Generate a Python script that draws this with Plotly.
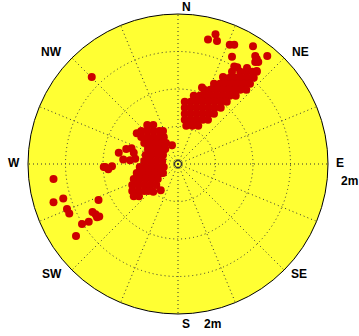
import numpy as np
import plotly.graph_objects as go

# Horizontal displacement samples (metres): east and north components
ne_cluster_east = [0.83, 0.91, 0.99, 1.05,
                   0.61, 0.69, 0.77, 0.85, 0.93, 1.01,
                   0.48, 0.56, 0.64, 0.72, 0.80, 0.88, 0.96,
                   0.35, 0.43, 0.51, 0.59, 0.67, 0.75, 0.83, 0.91,
                   0.21, 0.29, 0.37, 0.45, 0.53, 0.61, 0.69, 0.77,
                   0.09, 0.17, 0.25, 0.33, 0.41, 0.49, 0.57, 0.65,
                   0.09, 0.17, 0.25, 0.33, 0.41, 0.49, 0.57,
                   0.09, 0.17, 0.25, 0.33, 0.41, 0.48,
                   0.09, 0.17, 0.25, 0.33, 0.40,
                   0.11, 0.19, 0.27,
                   0.79, 0.92]
ne_cluster_north = [1.23, 1.23, 1.23, 1.23,
                    1.15, 1.15, 1.15, 1.15, 1.15, 1.15,
                    1.07, 1.07, 1.07, 1.07, 1.07, 1.07, 1.07,
                    0.99, 0.99, 0.99, 0.99, 0.99, 0.99, 0.99, 0.99,
                    0.91, 0.91, 0.91, 0.91, 0.91, 0.91, 0.91, 0.91,
                    0.83, 0.83, 0.83, 0.83, 0.83, 0.83, 0.83, 0.83,
                    0.75, 0.75, 0.75, 0.75, 0.75, 0.75, 0.75,
                    0.67, 0.67, 0.67, 0.67, 0.67, 0.67,
                    0.59, 0.59, 0.59, 0.59, 0.59,
                    0.51, 0.51, 0.51,
                    1.29, 1.28]

ne_scatter_east = [0.57, 0.73, 0.40, 0.50, 0.52, 0.69, 0.75, 1.00, 1.20, 1.23, 1.19,
                   0.72, 1.03, 1.19, 1.05, 1.03, 1.07, 0.75, 0.72, 1.05, 0.60, 0.32]
ne_scatter_north = [1.96, 1.91, 1.66, 1.73, 1.64, 1.59, 1.59, 1.57, 1.74, 1.69, 1.69,
                    1.43, 1.44, 1.44, 1.40, 1.36, 1.36, 1.30, 1.23, 1.24, 1.16, 1.02]

sw_cluster_east = [-0.41, -0.33,
                   -0.49, -0.41, -0.33, -0.25, -0.20,
                   -0.49, -0.41, -0.33, -0.25, -0.19,
                   -0.45, -0.37, -0.29, -0.21, -0.16,
                   -0.40, -0.32, -0.24, -0.17,
                   -0.43, -0.35, -0.27, -0.20,
                   -0.45, -0.37, -0.29, -0.21,
                   -0.51, -0.43, -0.35, -0.27, -0.19,
                   -0.55, -0.47, -0.39, -0.31, -0.23, -0.20,
                   -0.59, -0.51, -0.43, -0.35, -0.27,
                   -0.61, -0.53, -0.45, -0.37, -0.29,
                   -0.61, -0.53, -0.45, -0.40,
                   -0.59, -0.52,
                   -0.08, -0.33, -0.23, -0.55]
sw_cluster_north = [0.52, 0.52,
                    0.44, 0.44, 0.44, 0.44, 0.44,
                    0.36, 0.36, 0.36, 0.36, 0.36,
                    0.28, 0.28, 0.28, 0.28, 0.28,
                    0.20, 0.20, 0.20, 0.20,
                    0.12, 0.12, 0.12, 0.12,
                    0.04, 0.04, 0.04, 0.04,
                    -0.04, -0.04, -0.04, -0.04, -0.04,
                    -0.12, -0.12, -0.12, -0.12, -0.12, -0.12,
                    -0.20, -0.20, -0.20, -0.20, -0.20,
                    -0.28, -0.28, -0.28, -0.28, -0.28,
                    -0.36, -0.36, -0.36, -0.36,
                    -0.43, -0.43,
                    0.25, -0.37, -0.35, 0.41]

w_scatter_east = [-0.69, -0.79, -0.62, -0.73, -0.64, -0.57, -0.59,
                  -0.88, -0.97, -0.93, -0.99,
                  -1.66, -1.66, -1.53, -1.48, -1.45, -1.36, -1.28, -1.19,
                  -1.06, -1.14, -1.10, -1.08, -1.05, -1.15]
w_scatter_north = [0.20, 0.15, 0.21, 0.06, 0.05, 0.07, 0.15,
                   -0.03, -0.04, -0.07, -0.04,
                   -0.20, -0.51, -0.46, -0.60, -0.66, -0.96, -0.80, -0.77,
                   -0.48, -0.64, -0.67, -0.71, -0.70, 1.16]

compass_labels = ["N", "NE", "E", "SE", "S", "SW", "W", "NW"]
range_label = "2m"
r_max = 2.0
ring_values = [0.5, 1.0, 1.5, 2.0]

east = np.array(ne_cluster_east + ne_scatter_east + sw_cluster_east + w_scatter_east)
north = np.array(ne_cluster_north + ne_scatter_north + sw_cluster_north + w_scatter_north)
r = np.hypot(east, north)
theta = np.degrees(np.arctan2(east, north)) % 360

fig = go.Figure()
fig.add_trace(go.Scatterpolar(
    r=r, theta=theta, mode="markers",
    marker=dict(color="#CC0000", size=8, line=dict(width=0)),
    cliponaxis=False, showlegend=False, hoverinfo="skip"))
fig.add_trace(go.Scatterpolar(
    r=[0], theta=[0], mode="markers",
    marker=dict(symbol="circle-open", color="#333333", size=7, line=dict(width=1.3)),
    showlegend=False, hoverinfo="skip"))

grid_col = "#333333"
fig.update_layout(
    width=359, height=336,
    margin=dict(l=28, r=31, t=14, b=22),
    paper_bgcolor="white",
    polar=dict(
        domain=dict(x=[0, 1], y=[0, 1]),
        bgcolor="#FFFF33",
        radialaxis=dict(range=[0, r_max], tickvals=ring_values, showticklabels=False,
                        ticks="", showline=False, gridcolor=grid_col, gridwidth=1,
                        griddash="1px,3px"),
        angularaxis=dict(direction="clockwise", rotation=90, tickmode="linear",
                         tick0=0, dtick=22.5, showticklabels=False, ticks="",
                         gridcolor=grid_col, gridwidth=1, griddash="1px,3px",
                         showline=True, linecolor="black", linewidth=1),
    ),
)

# label positions (paper coordinates)
label_pos = {
    "N": (0.528, 1.022), "NE": (0.907, 0.873), "E": (1.04, 0.503),
    "SE": (0.903, 0.133), "S": (0.528, -0.033), "SW": (0.079, 0.133),
    "W": (-0.047, 0.503), "NW": (0.079, 0.873),
}
font = dict(family="Liberation Sans, Arial, sans-serif", size=12, color="black", weight="bold")
for lab in compass_labels:
    x, y = label_pos[lab]
    fig.add_annotation(text=lab, x=x, y=y, xref="paper", yref="paper",
                       showarrow=False, xanchor="center", yanchor="middle", font=font)
for x, y in [(1.073, 0.443), (0.615, -0.033)]:
    fig.add_annotation(text=range_label, x=x, y=y, xref="paper", yref="paper",
                       showarrow=False, xanchor="center", yanchor="middle", font=font)

fig.write_html("out.html", config={"displayModeBar": False},
               post_script="document.body.style.margin='0';document.body.style.overflow='hidden';")
